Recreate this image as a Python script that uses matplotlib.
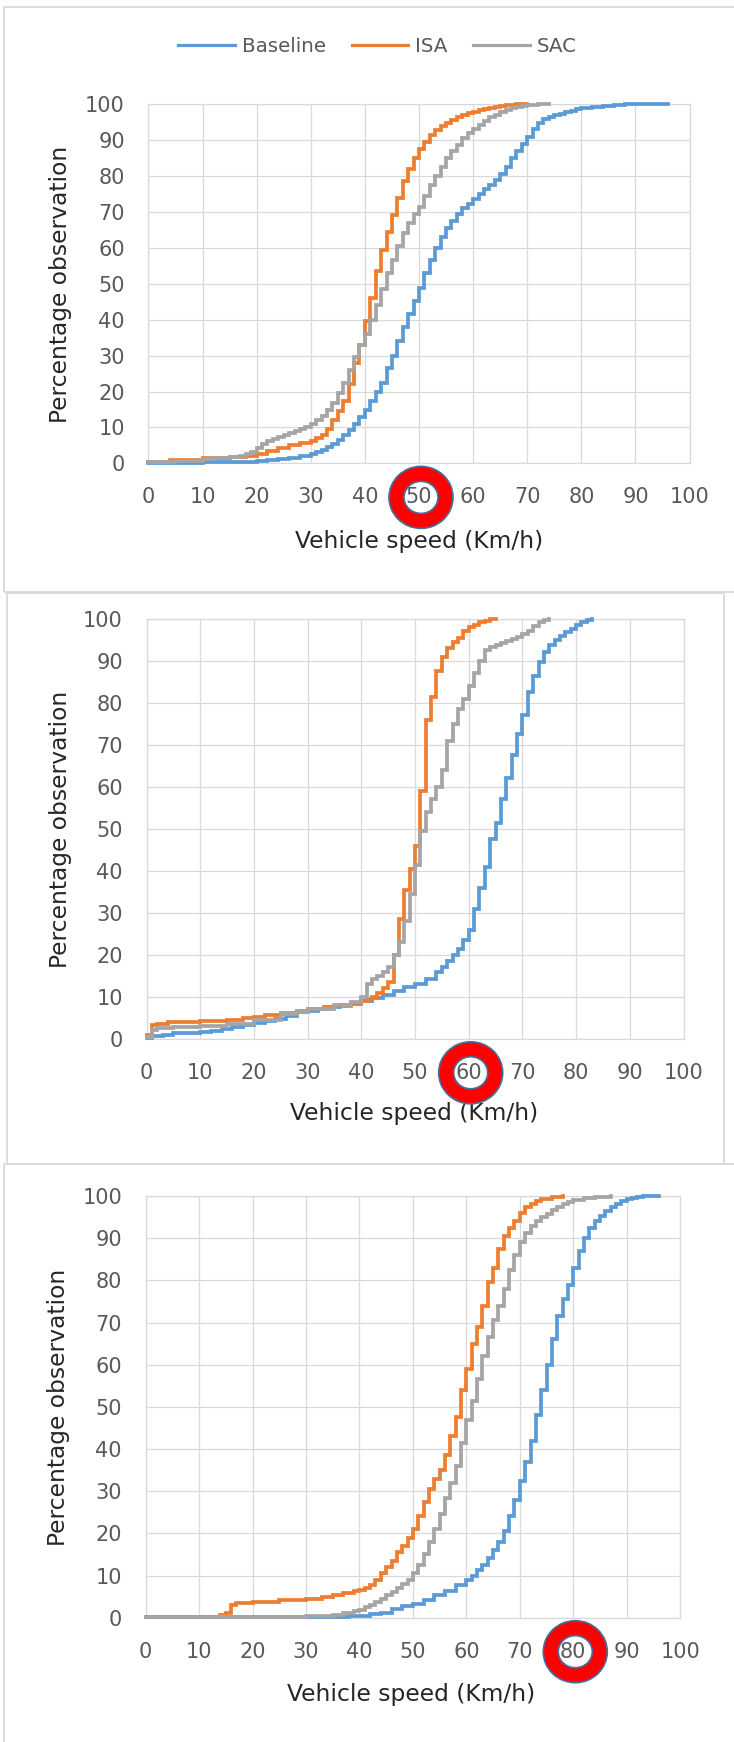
import matplotlib
matplotlib.use("Agg")
import matplotlib.pyplot as plt
import matplotlib.transforms as mtransforms
from matplotlib.patches import Annulus, Rectangle
from matplotlib.lines import Line2D

plt.rcParams["font.family"] = ["DejaVu Sans"]

# ---------------------------------------------------------------- data
series_names = ["Baseline", "ISA", "SAC"]
series_colors = ["#5B9BD5", "#ED7D31", "#A5A5A5"]
speed_ticks = list(range(0, 101, 10))
pct_ticks = list(range(0, 101, 10))
speed_limits = [50, 60, 80]

# 50 km/h road: cumulative share of observations (%) at each speed (km/h)
p1_base_speed = [0, 10, 15, 18, 20, 22, 24, 26, 28, 30,
                 31, 32, 33, 34, 35, 36, 37, 38, 39, 40,
                 41, 42, 43, 44, 45, 46, 47, 48, 49, 50,
                 51, 52, 53, 54, 55, 56, 57, 58, 59, 60,
                 61, 62, 63, 64, 65, 66, 67, 68, 69, 70,
                 71, 72, 73, 74, 75, 76, 77, 78, 79, 80,
                 82, 84, 86, 88, 90, 96]
p1_base_pct = [0.2, 0.3, 0.4, 0.5, 0.7, 0.9, 1.1, 1.5, 2.0, 2.6,
               3.1, 3.7, 4.5, 5.4, 6.5, 7.8, 9.2, 11, 13, 15,
               17.3, 20, 22.5, 26.5, 30, 34, 38, 41.6, 45.3, 48.8,
               53, 56.5, 60, 63, 65.5, 67.5, 69.5, 71, 72.3, 73.5,
               75, 76.3, 77.5, 79, 80.5, 82.5, 85, 87, 89, 90.8,
               93, 94.8, 95.8, 96.4, 96.9, 97.3, 97.8, 98.2, 98.6, 98.9,
               99.3, 99.6, 99.8, 99.9, 99.95, 100]

p1_isa_speed = [0, 2, 4, 5, 10, 15, 18, 20, 22, 24,
                26, 28, 30, 31, 32, 33, 34, 35, 36, 37,
                38, 39, 40, 41, 42, 43, 44, 45, 46, 47,
                48, 49, 50, 51, 52, 53, 54, 55, 56, 57,
                58, 59, 60, 61, 62, 63, 64, 65, 66, 67,
                68, 69, 70]
p1_isa_pct = [0.3, 0.5, 0.9, 1.0, 1.5, 1.8, 2.0, 2.5, 3.5, 4.3,
              5.0, 5.6, 6.3, 7.0, 8.0, 9.5, 12, 14.5, 17.5, 22,
              28, 33, 39.5, 46, 53.5, 59.5, 64.5, 69, 74, 78.5,
              82, 85, 87.5, 89.5, 91.3, 92.7, 93.8, 94.7, 95.6, 96.3,
              96.9, 97.4, 97.9, 98.3, 98.7, 99.0, 99.3, 99.5, 99.7, 99.85,
              99.95, 100, 100]

p1_sac_speed = [0, 5, 10, 12, 15, 17, 18, 19, 20, 21,
                22, 23, 24, 25, 26, 27, 28, 29, 30, 31,
                32, 33, 34, 35, 36, 37, 38, 39, 40, 41,
                42, 43, 44, 45, 46, 47, 48, 49, 50, 51,
                52, 53, 54, 55, 56, 57, 58, 59, 60, 61,
                62, 63, 64, 65, 66, 67, 68, 69, 70, 72,
                74]
p1_sac_pct = [0.3, 0.7, 1.3, 1.6, 1.9, 2.1, 2.5, 3.3, 4.3, 5.3,
              6.2, 6.9, 7.4, 7.9, 8.4, 8.9, 9.5, 10.2, 11.0, 12.0,
              13.2, 14.8, 16.8, 19.5, 22.5, 26, 29.5, 33, 36, 40,
              44, 48.5, 53, 56.5, 60.5, 64, 67, 69.5, 71.5, 74.5,
              77.5, 80, 82.5, 85, 87, 88.5, 90.5, 92, 93, 94.2,
              95.3, 96.3, 97, 97.7, 98.3, 98.8, 99.3, 99.6, 99.8, 100,
              100]

# 60 km/h road
p2_base_speed = [0, 1, 3, 5, 10, 12, 14, 16, 18, 20,
                 22, 24, 26, 28, 30, 32, 34, 36, 38, 40,
                 42, 44, 46, 48, 50, 52, 54, 55, 56, 57,
                 58, 59, 60, 61, 62, 63, 64, 65, 66, 67,
                 68, 69, 70, 71, 72, 73, 74, 75, 76, 77,
                 78, 79, 80, 81, 82, 83]
p2_base_pct = [0.2, 0.7, 1.0, 1.3, 1.6, 1.9, 2.4, 2.8, 3.3, 3.7,
               4.2, 4.8, 5.5, 6.3, 6.7, 7.2, 7.6, 8.0, 8.4, 8.9,
               9.6, 10.5, 11.5, 12.3, 13.0, 14.2, 15.8, 17, 18.5, 20,
               21.5, 23.5, 26, 31, 36, 41, 47.5, 51.5, 57, 62,
               67.5, 72.5, 77, 82.5, 86.5, 89.8, 92, 93.8, 95, 96,
               96.8, 97.7, 98.5, 99.2, 99.7, 100]

p2_isa_speed = [0, 1, 2, 4, 10, 15, 18, 20, 22, 25,
                28, 30, 33, 35, 38, 40, 41, 42, 43, 44,
                45, 46, 47, 48, 49, 50, 51, 52, 53, 54,
                55, 56, 57, 58, 59, 60, 61, 62, 63, 64,
                65]
p2_isa_pct = [1.0, 3.2, 3.5, 3.9, 4.2, 4.5, 4.9, 5.2, 5.6, 6.2,
              6.7, 7.0, 7.6, 7.9, 8.5, 9.1, 9.5, 10.0, 11.0, 12.0,
              13.5, 20, 28.5, 35.5, 40.5, 46, 59, 76, 81.5, 87.5,
              91, 93, 94.5, 95.5, 97, 98, 98.6, 99.2, 99.6, 99.9,
              100]

p2_sac_speed = [0, 1, 2, 5, 10, 15, 20, 25, 28, 30,
                35, 38, 40, 41, 42, 43, 44, 45, 46, 47,
                48, 49, 50, 51, 52, 53, 54, 55, 56, 57,
                58, 59, 60, 61, 62, 63, 64, 65, 66, 67,
                68, 69, 70, 71, 72, 73, 74, 75]
p2_sac_pct = [0.5, 2.0, 2.5, 2.8, 3.0, 3.6, 4.5, 5.8, 6.5, 7.0,
              8.0, 8.8, 10.0, 13.0, 14.3, 15.0, 15.8, 17.0, 20.0, 23.0,
              28.0, 34.5, 41.5, 49.5, 54, 57, 60, 64, 71, 75,
              78.5, 81, 84, 87, 90, 92.5, 93.3, 93.7, 94.2, 94.7,
              95.2, 95.7, 96.3, 97.2, 98.2, 99.2, 99.8, 100]

# 80 km/h road
p3_base_speed = [0, 30, 35, 38, 40, 42, 44, 46, 48, 50,
                 52, 54, 56, 58, 60, 61, 62, 63, 64, 65,
                 66, 67, 68, 69, 70, 71, 72, 73, 74, 75,
                 76, 77, 78, 79, 80, 81, 82, 83, 84, 85,
                 86, 87, 88, 89, 90, 91, 92, 93, 94, 96]
p3_base_pct = [0.1, 0.1, 0.2, 0.3, 0.4, 0.8, 1.2, 2.0, 2.8, 3.3,
               4.3, 5.3, 6.3, 7.8, 9.0, 10.0, 11.2, 12.6, 14.2, 16,
               18, 20.5, 24, 28, 32.5, 37, 42, 48, 54, 60,
               66, 71.5, 75.5, 79, 83, 87, 90, 92.3, 94, 95.3,
               96.4, 97.4, 98.2, 98.8, 99.3, 99.6, 99.8, 99.9, 100, 100]

p3_isa_speed = [0, 13, 14, 15, 16, 17, 20, 25, 30, 33,
                35, 37, 39, 40, 41, 42, 43, 44, 45, 46,
                47, 48, 49, 50, 51, 52, 53, 54, 55, 56,
                57, 58, 59, 60, 61, 62, 63, 64, 65, 66,
                67, 68, 69, 70, 71, 72, 73, 74, 76, 78]
p3_isa_pct = [0.2, 0.2, 0.6, 1.0, 3.0, 3.5, 3.8, 4.1, 4.5, 5.0,
              5.3, 5.8, 6.3, 6.6, 7.0, 7.8, 9.0, 10.5, 12.0, 13.5,
              15.5, 17.0, 19.0, 21, 24, 27.5, 30.5, 33, 35, 38.5,
              43, 47.5, 54, 59, 65, 69, 74, 79.5, 83, 87.5,
              90.5, 92.3, 94, 96, 97.3, 98.2, 98.9, 99.3, 99.7, 100]

p3_sac_speed = [0, 25, 30, 33, 35, 37, 39, 40, 41, 42,
                43, 44, 45, 46, 47, 48, 49, 50, 51, 52,
                53, 54, 55, 56, 57, 58, 59, 60, 61, 62,
                63, 64, 65, 66, 67, 68, 69, 70, 71, 72,
                73, 74, 75, 76, 77, 78, 79, 80, 82, 84,
                87]
p3_sac_pct = [0.1, 0.2, 0.3, 0.5, 0.7, 1.0, 1.5, 1.9, 2.5, 3.1,
              3.8, 4.5, 5.3, 6.0, 7.0, 8.0, 9.0, 10.5, 12.5, 15.0,
              18.0, 21.0, 24.5, 28.5, 32, 36, 41.5, 47, 51.5, 56.5,
              62, 66.5, 70.5, 74, 78, 82.5, 86, 89, 91.3, 93,
              94, 95, 95.8, 96.6, 97.4, 98.1, 98.6, 99, 99.5, 99.8,
              100]

panels_data = [
    [(p1_base_speed, p1_base_pct), (p1_isa_speed, p1_isa_pct), (p1_sac_speed, p1_sac_pct)],
    [(p2_base_speed, p2_base_pct), (p2_isa_speed, p2_isa_pct), (p2_sac_speed, p2_sac_pct)],
    [(p3_base_speed, p3_base_pct), (p3_isa_speed, p3_isa_pct), (p3_sac_speed, p3_sac_pct)],
]

# ---------------------------------------------------------------- layout (pixels)
W, H, DPI = 734, 1742, 100
GRID = "#D9D9D9"
TICK_COLOR = "#595959"
TITLE_COLOR = "#262626"

# plot areas: left, top, right, bottom
plot_boxes = [(148.4, 104.1, 689.6, 463.4),
              (146.5, 618.9, 683.5, 1038.8),
              (145.6, 1196.0, 680.2, 1617.7)]
ylabel_pos = [(61, 284), (61, 829), (58.5, 1407)]
xlabel_pos = [(419, 541.5), (414.5, 1113.5), (411, 1694)]
frame_boxes = [(4, 7, 760, 592), (6.5, 593, 724, 1164), (4, 1164, 760, 1760)]

fig = plt.figure(figsize=(W / DPI, H / DPI), dpi=DPI)
fig.patch.set_facecolor("white")
px = mtransforms.Affine2D().scale(1 / W, 1 / H) + fig.transFigure

# outer panel frames
for (x0, y0, x1, y1) in frame_boxes:
    fig.add_artist(Rectangle((x0, H - y1), x1 - x0, y1 - y0, transform=px,
                             fill=False, ec=GRID, lw=1.3, zorder=0))

axes = []
for i, (l, t, r, b) in enumerate(plot_boxes):
    ax = fig.add_axes([l / W, 1 - b / H, (r - l) / W, (b - t) / H])
    for (xs, ys), color in zip(panels_data[i], series_colors):
        ax.step(xs, ys, where="post", color=color, lw=2.7,
                solid_joinstyle="miter", clip_on=False, zorder=3)
    ax.set_xlim(0, 100)
    ax.set_ylim(0, 100)
    ax.set_xticks(speed_ticks)
    ax.set_yticks(pct_ticks)
    ax.grid(True, color=GRID, lw=0.9, zorder=0)
    ax.set_axisbelow(True)
    for s in ax.spines.values():
        s.set_color(GRID)
        s.set_linewidth(0.9)
    ax.tick_params(axis="both", length=0, labelsize=15, labelcolor=TICK_COLOR)
    ax.tick_params(axis="x", pad=24.5)
    ax.tick_params(axis="y", pad=17)
    for lab in ax.get_xticklabels():
        lab.set_va("center")
    fx, fyy = ylabel_pos[i]
    fig.text(fx / W, 1 - fyy / H, "Percentage observation", rotation=90,
             ha="center", va="center", fontsize=16.8, color=TITLE_COLOR)
    fx, fyy = xlabel_pos[i]
    fig.text(fx / W, 1 - fyy / H, "Vehicle speed (Km/h)",
             ha="center", va="center", fontsize=16.8, color=TITLE_COLOR)
    axes.append(ax)

# legend across the top
handles = [Line2D([], [], color=c, lw=2.3) for c in series_colors]
fig.legend(handles, series_names, loc="center",
           bbox_to_anchor=(377.5 / W, 1 - 46.5 / H), ncol=3, frameon=False,
           fontsize=14.3, handlelength=2.85, handletextpad=0.35,
           columnspacing=1.3, labelcolor=TICK_COLOR)

# ring around the posted speed limit on each speed axis
fig.canvas.draw()
for ax, limit, (l, t, r, b) in zip(axes, speed_limits, plot_boxes):
    cx, _ = ax.transData.transform((limit, 0))
    cy = (H - b) - 34
    ring = Annulus((cx + 2, cy), r=(32, 31), width=15,
                   transform=mtransforms.IdentityTransform(),
                   fc="#FF0000", ec="#41719C", lw=1.2, zorder=5)
    fig.add_artist(ring)

fig.savefig("out.png", dpi=DPI, facecolor="white")
